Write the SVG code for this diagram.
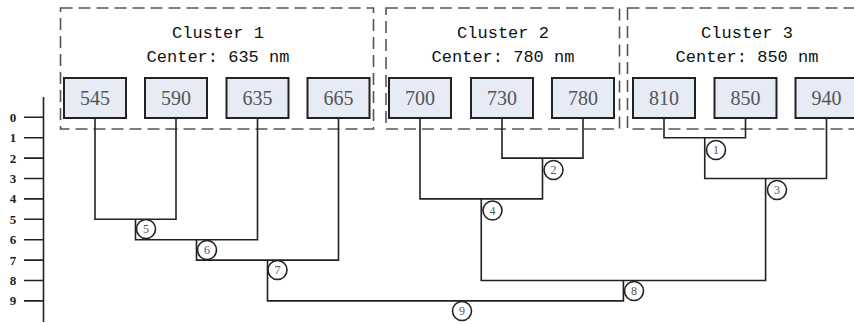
<svg xmlns="http://www.w3.org/2000/svg" width="854" height="324" viewBox="0 0 854 324">
<style>
.cl{fill:none;stroke:#555;stroke-width:1.6;stroke-dasharray:12 6}
.ct{font-family:"Liberation Mono",monospace;font-size:17px;fill:#111;text-anchor:middle}
.bx{fill:#e6ebf5;stroke:#222;stroke-width:2}
.bt{font-family:"Liberation Serif",serif;font-size:20px;fill:#555;text-anchor:middle}
.ln{fill:none;stroke:#222;stroke-width:1.6}
.ci{fill:#fff;stroke:#222;stroke-width:1.6}
.cn{font-family:"Liberation Serif",serif;font-size:12px;fill:#555;text-anchor:middle}
.tk{font-family:"Liberation Serif",serif;font-size:13px;font-weight:bold;fill:#222;text-anchor:middle}
</style>
<rect width="854" height="324" fill="#fff"/>
<g id="axis">
<line class="ln" x1="43.5" y1="97" x2="43.5" y2="322"/>
<path class="ln" d="M24 117.3H43.5M24 137.7H43.5M24 158.1H43.5M24 178.5H43.5M24 198.9H43.5M24 219.3H43.5M24 239.7H43.5M24 260.1H43.5M24 280.5H43.5M24 300.9H43.5"/>
<text class="tk" x="13" y="121.8">0</text>
<text class="tk" x="13" y="142.2">1</text>
<text class="tk" x="13" y="162.6">2</text>
<text class="tk" x="13" y="183">3</text>
<text class="tk" x="13" y="203.4">4</text>
<text class="tk" x="13" y="223.8">5</text>
<text class="tk" x="13" y="244.2">6</text>
<text class="tk" x="13" y="264.6">7</text>
<text class="tk" x="13" y="285">8</text>
<text class="tk" x="13" y="305.4">9</text>
</g>
<g id="cluster1">
<rect class="cl" x="60.5" y="8" width="313" height="121"/>
<text class="ct" x="218" y="38">Cluster 1</text>
<text class="ct" x="218" y="62">Center: 635 nm</text>
</g>
<g id="cluster2">
<rect class="cl" x="386" y="8" width="233.5" height="121"/>
<text class="ct" x="503" y="38">Cluster 2</text>
<text class="ct" x="503" y="62">Center: 780 nm</text>
</g>
<g id="cluster3">
<rect class="cl" x="627.5" y="8" width="245" height="121"/>
<text class="ct" x="747" y="38">Cluster 3</text>
<text class="ct" x="747" y="62">Center: 850 nm</text>
</g>
<g id="connectors">
<path class="ln" d="M664 118V137.7H745.5V118"/>
<path class="ln" d="M502 118V158.1H583V118"/>
<path class="ln" d="M704.75 137.7V178.5H826.5V118"/>
<path class="ln" d="M420 118V198.9H542.5V158.1"/>
<path class="ln" d="M95 118V219.3H176V118"/>
<path class="ln" d="M135.5 219.3V239.7H257.5V118"/>
<path class="ln" d="M196.5 239.7V260.1H338.5V118"/>
<path class="ln" d="M481.25 198.9V280.5H765.6V178.5"/>
<path class="ln" d="M267.5 260.1V300.9H623.4V280.5"/>
</g>
<g id="n545"><rect class="bx" x="64" y="78" width="62" height="40"/><text class="bt" x="95" y="104.5">545</text></g>
<g id="n590"><rect class="bx" x="145" y="78" width="62" height="40"/><text class="bt" x="176" y="104.5">590</text></g>
<g id="n635"><rect class="bx" x="226.5" y="78" width="62" height="40"/><text class="bt" x="257.5" y="104.5">635</text></g>
<g id="n665"><rect class="bx" x="307.5" y="78" width="62" height="40"/><text class="bt" x="338.5" y="104.5">665</text></g>
<g id="n700"><rect class="bx" x="389" y="78" width="62" height="40"/><text class="bt" x="420" y="104.5">700</text></g>
<g id="n730"><rect class="bx" x="471" y="78" width="62" height="40"/><text class="bt" x="502" y="104.5">730</text></g>
<g id="n780"><rect class="bx" x="552" y="78" width="62" height="40"/><text class="bt" x="583" y="104.5">780</text></g>
<g id="n810"><rect class="bx" x="633" y="78" width="62" height="40"/><text class="bt" x="664" y="104.5">810</text></g>
<g id="n850"><rect class="bx" x="714.5" y="78" width="62" height="40"/><text class="bt" x="745.5" y="104.5">850</text></g>
<g id="n940"><rect class="bx" x="795.5" y="78" width="62" height="40"/><text class="bt" x="826.5" y="104.5">940</text></g>
<g id="m1"><circle class="ci" cx="716" cy="150" r="9.5"/><text class="cn" x="716" y="154.2">1</text></g>
<g id="m2"><circle class="ci" cx="553.5" cy="170" r="9.5"/><text class="cn" x="553.5" y="174.2">2</text></g>
<g id="m3"><circle class="ci" cx="777" cy="190" r="9.5"/><text class="cn" x="777" y="194.2">3</text></g>
<g id="m4"><circle class="ci" cx="492.5" cy="210.5" r="9.5"/><text class="cn" x="492.5" y="214.7">4</text></g>
<g id="m5"><circle class="ci" cx="146" cy="229" r="9.5"/><text class="cn" x="146" y="233.2">5</text></g>
<g id="m6"><circle class="ci" cx="207" cy="250" r="9.5"/><text class="cn" x="207" y="254.2">6</text></g>
<g id="m7"><circle class="ci" cx="277.5" cy="270" r="9.5"/><text class="cn" x="277.5" y="274.2">7</text></g>
<g id="m8"><circle class="ci" cx="634" cy="291" r="9.5"/><text class="cn" x="634" y="295.2">8</text></g>
<g id="m9"><circle class="ci" cx="462" cy="311" r="9.5"/><text class="cn" x="462" y="315.2">9</text></g>
</svg>
